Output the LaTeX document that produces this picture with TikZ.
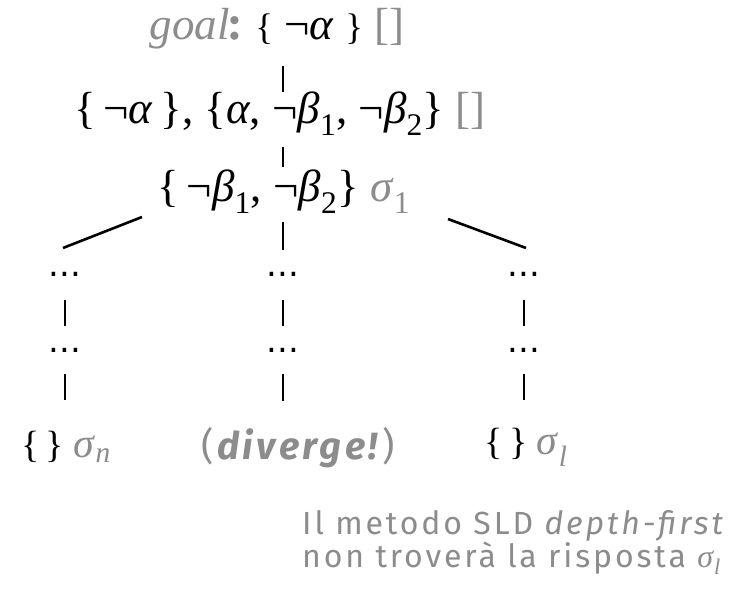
\documentclass[tikz,border=0pt]{standalone}
\usepackage{fontspec}
\setmainfont{Liberation Serif}
\newfontfamily\firasans[LetterSpace=9]{Fira Sans}
\newfontfamily\dejavu{DejaVu Sans}
\definecolor{hint}{gray}{0.55}
\newcommand{\sg}[1]{{\color{hint}\textit{σ}\textsubscript{#1}}}
\newcommand{\smallbr}[1]{{\fontsize{37}{40}\selectfont#1}}

\begin{document}
\begin{tikzpicture}[x=1pt, y=1pt, every node/.style={inner sep=0pt, font=\fontsize{38}{44}\selectfont}, big/.style={font=\fontsize{45}{52}\selectfont}, dots/.style={font=\dejavu\fontsize{34}{40}\selectfont}, note/.style={text=hint, font=\firasans\fontsize{32}{30}\selectfont}, link/.style={line width=2.6pt}]
\useasboundingbox (0,0) rectangle (749,590);
\node[big] (goal) at (277,561) {{\color{hint}\textit{goal}{\firasans\bfseries :}} \smallbr{\{} ¬\textit{α} \smallbr{\}} {\color{hint}[]}};
\node[big] (res1) at (280,476) {\{\,¬\textit{α}\,\}, \{\textit{α}, ¬\textit{β}\textsubscript{1}, ¬\textit{β}\textsubscript{2}\} {\color{hint}[]}};
\node[big] (res2) at (284,398) {\{\,¬\textit{β}\textsubscript{1}, ¬\textit{β}\textsubscript{2}\} \sg{1}};
\node[dots] (ldots1) at (65,316) {...};
\node[dots] (mdots1) at (283,316) {...};
\node[dots] (rdots1) at (524,316) {...};
\node[dots] (ldots2) at (65,240) {...};
\node[dots] (mdots2) at (283,240) {...};
\node[dots] (rdots2) at (524,240) {...};
\node (lleaf) at (66,143) {\{\,\} {\fontsize{42}{44}\selectfont\sg{\textit{n}}}};
\node[note, font=\firasans\fontsize{38}{40}\selectfont] (diverge) at (298,142) {(\textbf{\textit{diverge!}})};
\node (rleaf) at (526,143) {\{\,\} {\fontsize{42}{44}\selectfont\sg{\textit{l}}}};
\node[note, align=left, anchor=north west] (remark) at (302,80) {Il metodo SLD \textit{depth-first}\\non troverà la risposta {\rmfamily\sg{\textit{l}}}};
% the tree
\draw[link, shorten <=37pt, shorten >=22pt] (goal.center -| mdots1) -- (res1.center -| mdots1);
\draw[link, shorten <=33pt, shorten >=25pt] (res1.center -| mdots1) -- (res2.center -| mdots1);
\draw[link] ([shift={(-142,-25)}]res2.center) -- ([shift={(-2,26)}]ldots1.center);
\draw[link, shorten <=30pt, shorten >=22pt] (res2.center -| mdots1) -- (mdots1);
\draw[link] ([shift={(164,-27)}]res2.center) -- ([shift={(2,26)}]rdots1.center);
\foreach \col in {l,m,r} {
  \draw[link, shorten <=24pt, shorten >=22pt] (\col dots1) -- (\col dots2);
}
\draw[link, shorten <=22pt, shorten >=47pt] (ldots2) -- (ldots2 |- lleaf);
\draw[link, shorten <=22pt, shorten >=47pt] (mdots2) -- (mdots2 |- diverge);
\draw[link, shorten <=22pt, shorten >=47pt] (rdots2) -- (rdots2 |- rleaf);
\end{tikzpicture}
\end{document}
